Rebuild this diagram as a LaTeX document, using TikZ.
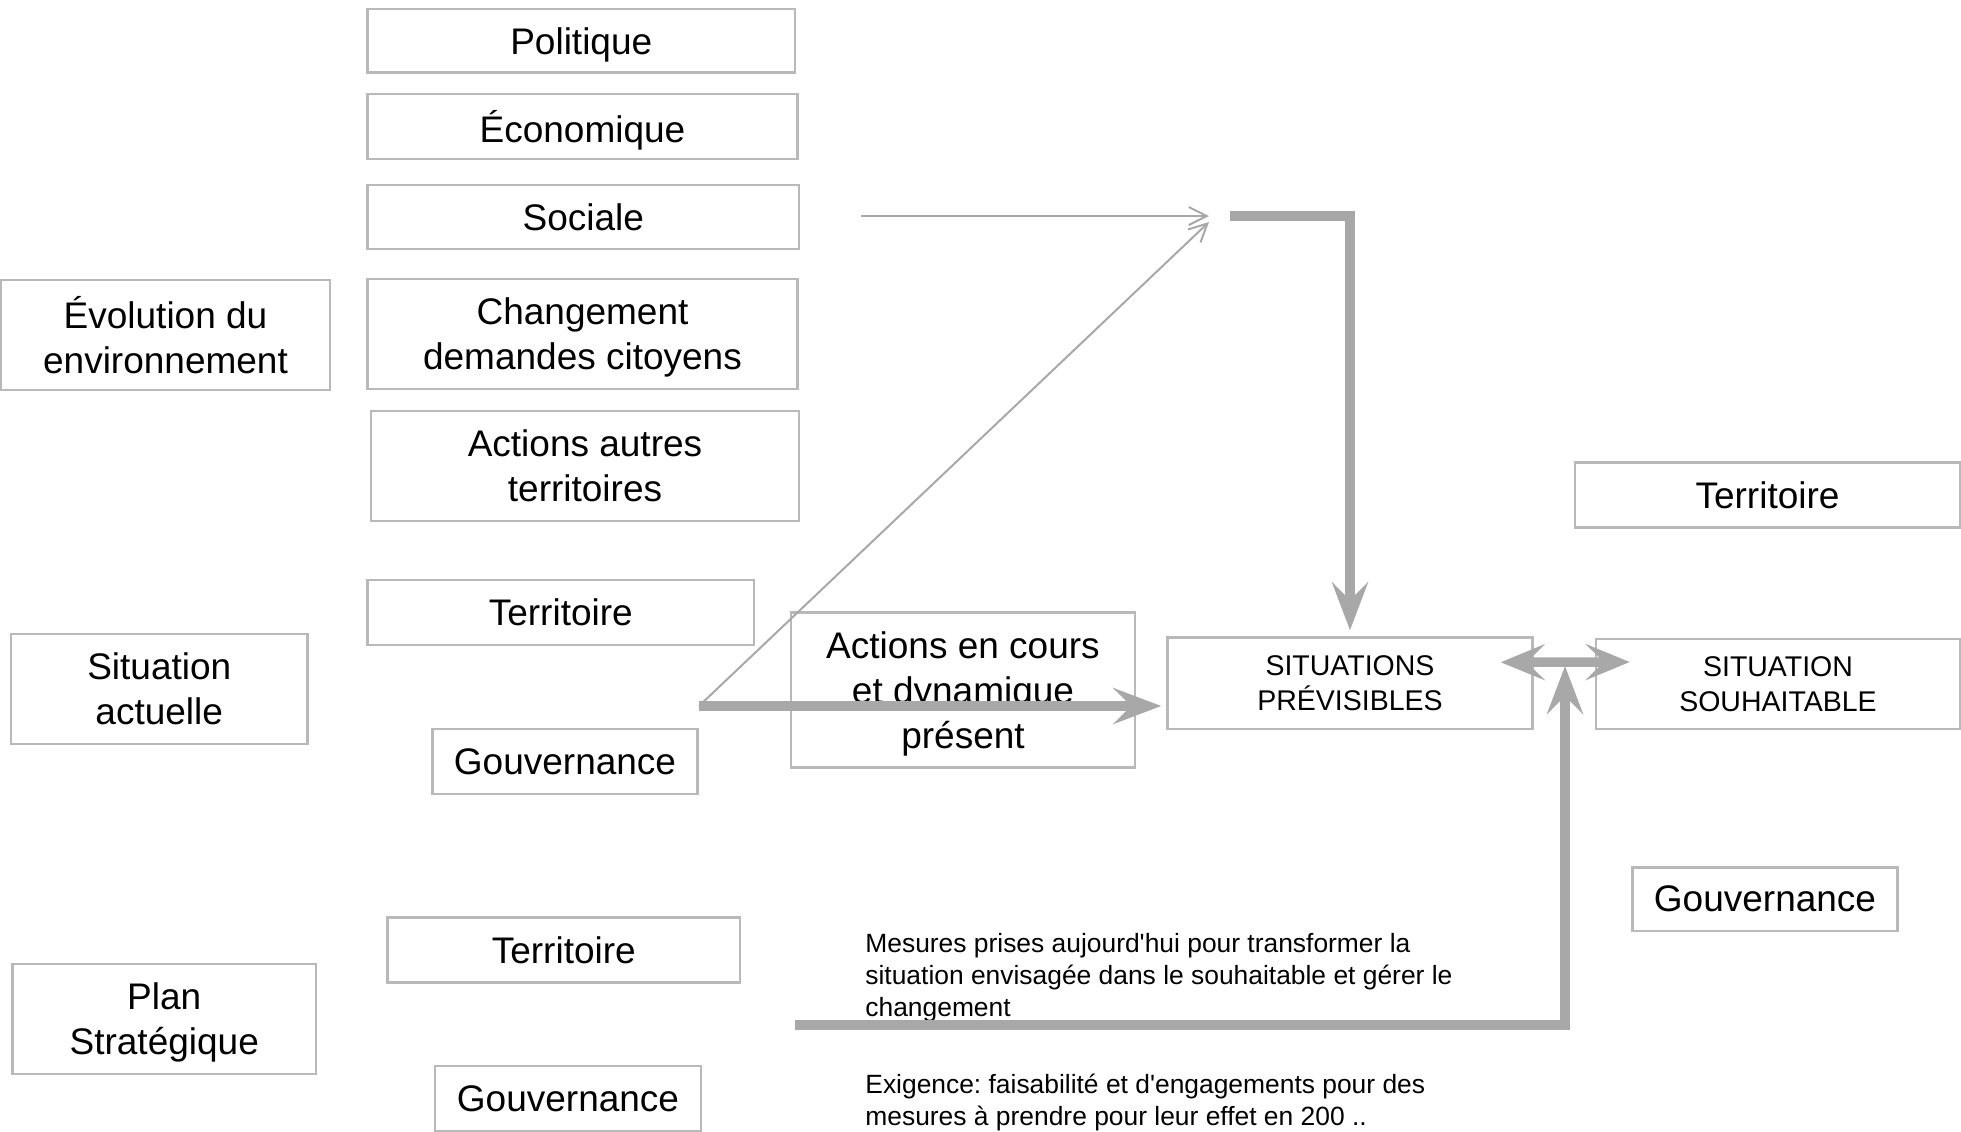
\documentclass[tikz,border=0pt]{standalone}
\usepackage{fontspec}
\setmainfont{Liberation Sans}
\usetikzlibrary{arrows.meta,calc}
\definecolor{boxgray}{RGB}{185,185,185}
\definecolor{arrowgray}{RGB}{168,168,168}
\newcommand\bigtxt{\fontsize{18.5pt}{22.5pt}\selectfont}
\newcommand\captxt{\fontsize{14.25pt}{17.5pt}\selectfont}
\newcommand\smalltxt{\fontsize{13.2pt}{16pt}\selectfont}
\frenchspacing
\begin{document}
\begin{tikzpicture}[x=0.5pt,y=-0.5pt,
  bx/.style 2 args={draw=boxgray, line width=1.25pt, minimum width=#1*0.5pt,
    minimum height=#2*0.5pt, inner sep=0pt, align=center, font=\bigtxt, text depth=0pt},
  note/.style={anchor=west, align=left, inner sep=0pt, font=\smalltxt},
  thinarrow/.style={draw=arrowgray, line width=1pt, -{Straight Barb[length=9pt,width=9pt]}},
  thickline/.style={draw=arrowgray, line width=4.8pt, line join=miter, line cap=butt},
  thickarrow/.style={thickline, -{Stealth[length=24pt,width=18pt,inset=9pt]}},
  thickdbl/.style={thickline, {Stealth[length=22pt,width=18pt,inset=9pt]}-{Stealth[length=22pt,width=18pt,inset=9pt]}}
]
\useasboundingbox (0,0) rectangle (1961,1131);

% left column
\node[bx={329}{110}] (evo) at (165.5,335) {Évolution du\\environnement};
\node[bx={296.5}{110}] (sit) at (159.25,689) {Situation\\actuelle};
\node[bx={303.5}{110}] (plan) at (164.25,1019) {Plan\\Stratégique};

% middle column
\node[bx={427.5}{63.5}] (pol) at (581.25,40.75) {Politique};
\node[bx={430}{65}] (eco) at (582.5,126.5) {Économique};
\node[bx={431.5}{64}] (soc) at (583.25,217) {Sociale};
\node[bx={430}{110}] (chg) at (582.5,334) {Changement\\demandes citoyens};
\node[bx={428}{110}] (aut) at (585,466) {Actions autres\\territoires};
\node[bx={386.5}{65}] (ter1) at (560.75,612.5) {Territoire};
\node[bx={265}{65}] (gov1) at (565,761.5) {Gouvernance};
\node[bx={352.5}{65}] (ter3) at (563.75,950) {Territoire};
\node[bx={266}{65}] (gov3) at (568,1098.5) {Gouvernance};

\node[bx={344}{155}] (act) at (963,690) {Actions en cours\\et dynamique\\présent};

% right
\node[bx={365}{91.5}, font=\captxt] (prev) at (1350,683.25) {SITUATIONS\\PRÉVISIBLES};
\node[bx={364}{90}, font=\captxt] (souh) at (1778,684) {SITUATION\\SOUHAITABLE};
\node[bx={385}{65}] (ter2) at (1767.5,495) {Territoire};
\node[bx={265}{63.5}] (gov2) at (1765,899) {Gouvernance};

% notes
\node[note] (mes) at (865,978) {Mesures prises aujourd\textquotesingle hui pour transformer la\\situation envisagée dans le souhaitable et gérer le\\changement};
\node[note] (exi) at (865,1103) {Exigence: faisabilité et d\textquotesingle engagements pour des\\mesures à prendre pour leur effet en 200 ..};

% connectors
\coordinate (s0) at (699,706);
\coordinate (diagEnd) at (1209,222);
\coordinate (socStart) at (861,216);
\coordinate (socEnd) at (1209,216);
\coordinate (Ltop) at (1230,216);
\coordinate (Lbot) at (795,1025);
\coordinate (upTip) at (1565,666);

\draw[thinarrow] (s0) -- (diagEnd);
\draw[thinarrow] (socStart) -- (socEnd);
\draw[thickarrow, shorten >=2.5pt] (s0) -- (s0 -| prev.west);
\draw[thickarrow] (Ltop) -| ($(prev.north)+(0,-6)$);
\draw[thickarrow] (Lbot) -| (upTip);
\draw[thickdbl] ($(prev.east)+(-33,-21)$) -- ($(souh.west)+(35,-22)$);
\end{tikzpicture}
\end{document}
